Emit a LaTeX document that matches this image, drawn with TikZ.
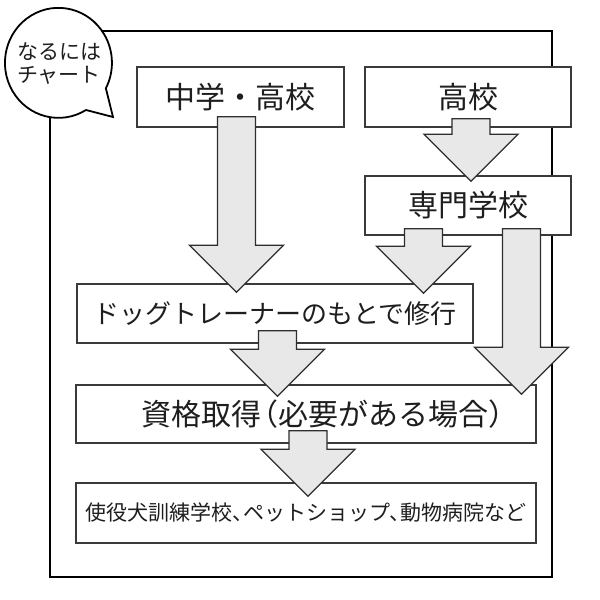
\documentclass[tikz,border=0pt]{standalone}
\usepackage{fontspec}
\newfontfamily\jp{Noto Sans CJK JP}
\usetikzlibrary{calc}
\definecolor{boxc}{HTML}{3A3A3A}
\definecolor{arrc}{HTML}{2E2E2E}
\definecolor{arrf}{HTML}{E8E8E8}
\definecolor{textc}{HTML}{1E1E1E}
\newcommand\blockarrow[5]{%
  \path[arr] let \p1=(#1.south), \p2=(#2.north) in
    ({#3pt-19pt},{\y1+#4pt}) -- ({#3pt+19pt},{\y1+#4pt})
    -- ({#3pt+19pt},{\y2-#5pt+47pt}) -- ({#3pt+47pt},{\y2-#5pt+47pt})
    -- ({#3pt},{\y2-#5pt}) -- ({#3pt-47pt},{\y2-#5pt+47pt})
    -- ({#3pt-19pt},{\y2-#5pt+47pt}) -- cycle;}
\begin{document}
\begin{tikzpicture}[x=1pt,y=-1pt,
  box/.style={draw=boxc, line width=1.4pt, fill=white, inner sep=0pt, text=textc},
  arr/.style={draw=arrc, fill=arrf, line width=1.3pt, line join=miter},
  lbl/.style={inner sep=0pt, text=textc}]
\useasboundingbox (0,0) rectangle (600,600);
% outer frame
\draw[line width=2.4pt] (50,31) rectangle (552,577);
% boxes
\node[box, minimum width=207, minimum height=60, font=\jp\fontsize{30}{32}\selectfont] (chuko) at (240.5,97) {中学・高校};
\node[box, minimum width=206, minimum height=60, font=\jp\fontsize{30}{32}\selectfont] (koko) at (468,97) {高校};
\node[box, minimum width=206, minimum height=59, font=\jp\fontsize{30}{32}\selectfont] (senmon) at (468,205.5) {専門学校};
\node[box, minimum width=396, minimum height=59, font=\jp\fontsize{26}{28}\selectfont] (dog) at (275,313.5) {ドッグトレーナーのもとで修行};
\node[box, minimum width=460, minimum height=58] (shikaku) at (306,414) {};
\node[lbl, font=\jp\fontsize{30}{32}\selectfont] (shikakut) at ([xshift=17]shikaku.center) {資格取得\kern-0.45em（必要がある場合）\kern-0.45em};
\node[box, minimum width=460, minimum height=60, font=\jp\fontsize{21}{24}\selectfont] (last) at (306,513) {使役犬訓練学校、\kern-0.5em ペットショップ、\kern-0.5em 動物病院など};
% block arrows
\blockarrow{chuko}{dog}{236.5}{11}{9}
\blockarrow{koko}{senmon}{471}{9}{6}
\blockarrow{senmon}{dog}{423.5}{7}{10}
\blockarrow{senmon}{shikaku}{521.5}{7}{10}
\blockarrow{dog}{shikaku}{277.5}{13}{12}
\blockarrow{shikaku}{last}{308}{13}{14}
% speech bubble
\draw[line width=1.8pt, fill=white] (86,110) arc[start angle=59, end angle=387.6, x radius=53.5, y radius=55] -- (113,117) -- cycle;
\node[lbl, align=center, font=\jp\fontsize{21}{23}\selectfont] (bubble) at (59,64) {なるには\\チャート};
\end{tikzpicture}
\end{document}
